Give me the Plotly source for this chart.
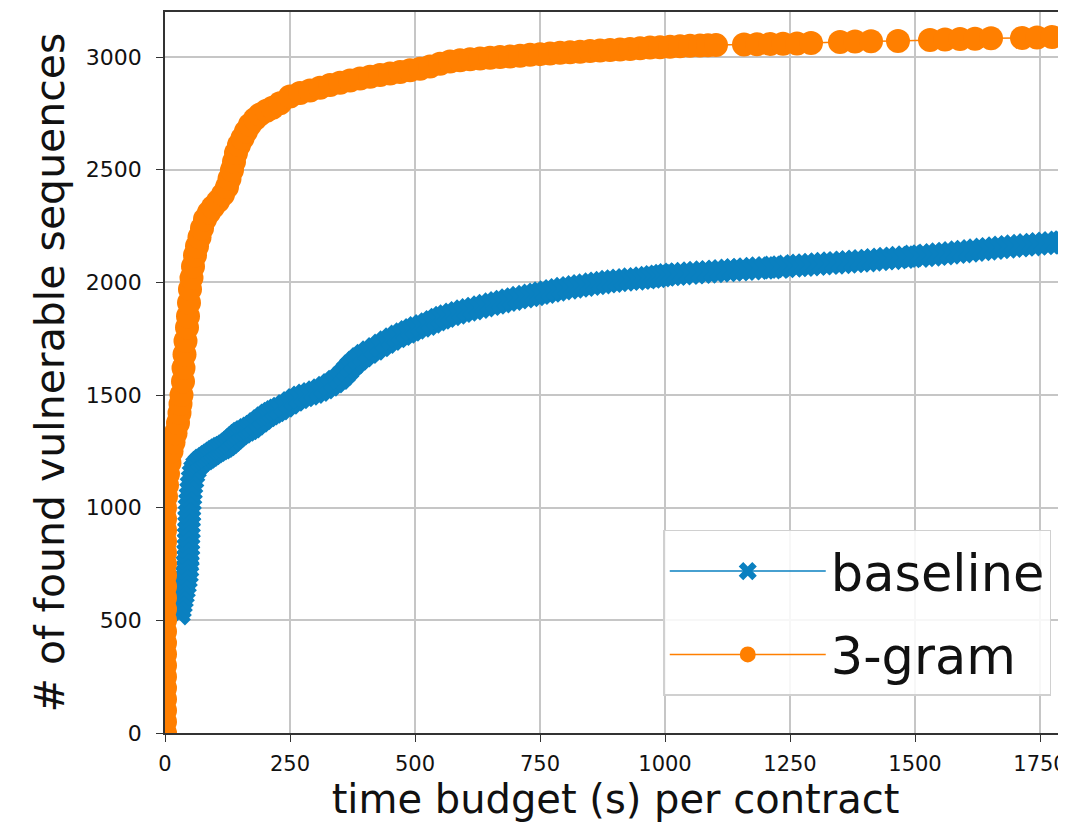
import plotly.graph_objects as go

# ---- data ----
# time budget (s) and cumulative number of found vulnerable sequences
baseline_x = [28, 30, 32, 34, 36, 38, 40, 42, 44, 45, 45, 46, 46, 47, 47, 47, 48, 48, 48, 49,
              49, 50, 51, 52, 53, 55, 57, 60, 64, 69, 74, 80, 85, 90, 95, 100, 105, 110, 115,
              120, 125, 130, 135, 140, 145, 150, 156, 163, 169, 175, 182, 190, 197, 205, 211,
              217, 223, 230, 240, 250, 260, 270, 280, 290, 300, 310, 320, 330, 340, 350, 358,
              365, 372, 380, 388, 397, 408, 420, 432, 443, 454, 465, 475, 485, 494, 503, 514,
              525, 535, 545, 554, 563, 574, 585, 596, 607, 618, 630, 641, 653, 664, 675, 686,
              697, 708, 720, 731, 742, 752, 763, 774, 785, 796, 808, 819, 830, 841, 853, 864,
              875, 886, 897, 908, 920, 931, 943, 954, 965, 975, 985, 994, 1003, 1014, 1025,
              1037, 1050, 1062, 1075, 1087, 1100, 1112, 1125, 1137, 1150, 1162, 1175, 1187,
              1200, 1215, 1230, 1243, 1257, 1268, 1280, 1292, 1305, 1317, 1330, 1342, 1355,
              1367, 1380, 1392, 1405, 1417, 1430, 1442, 1455, 1467, 1480, 1495, 1510, 1522,
              1535, 1547, 1560, 1572, 1585, 1597, 1610, 1622, 1635, 1647, 1660, 1672, 1685,
              1697, 1710, 1722, 1735, 1747, 1760, 1772, 1785, 1794, 1802]
baseline_y = [530, 550, 572, 594, 616, 638, 660, 683, 706, 730, 753, 776, 800, 825, 850, 875,
              900, 925, 950, 975, 1000, 1025, 1050, 1075, 1100, 1125, 1150, 1170, 1188, 1200,
              1210, 1218, 1226, 1233, 1241, 1249, 1256, 1262, 1267, 1273, 1281, 1290, 1300,
              1310, 1320, 1329, 1337, 1345, 1352, 1360, 1372, 1385, 1397, 1410, 1418, 1425,
              1432, 1440, 1452, 1465, 1478, 1490, 1498, 1505, 1513, 1522, 1533, 1545, 1560,
              1575, 1593, 1610, 1628, 1645, 1660, 1675, 1690, 1705, 1720, 1735, 1748, 1760,
              1770, 1780, 1789, 1798, 1807, 1815, 1825, 1835, 1843, 1850, 1858, 1865, 1872,
              1878, 1884, 1890, 1897, 1903, 1909, 1915, 1921, 1926, 1932, 1937, 1942, 1947,
              1952, 1957, 1962, 1967, 1972, 1976, 1980, 1984, 1988, 1992, 1996, 1999, 2003,
              2006, 2009, 2011, 2014, 2016, 2019, 2021, 2024, 2027, 2030, 2033, 2035, 2037,
              2039, 2041, 2043, 2045, 2047, 2049, 2051, 2053, 2055, 2057, 2059, 2061, 2063,
              2064, 2066, 2068, 2071, 2073, 2075, 2077, 2079, 2081, 2083, 2085, 2087, 2089,
              2091, 2093, 2095, 2097, 2100, 2102, 2105, 2107, 2110, 2112, 2115, 2117, 2120,
              2122, 2125, 2128, 2131, 2134, 2137, 2140, 2143, 2146, 2149, 2152, 2155, 2158,
              2161, 2163, 2166, 2168, 2171, 2173, 2175, 2177, 2179, 2180]

trigram_x = [0, 0, 0, 0, 0, 0, 0, 0, 0, 0, 0, 0, 0, 0, 0, 0, 0, 0, 0, 0, 0,
             2, 4, 6, 9, 13, 17, 21, 26, 29, 31, 33, 36,
             37, 39, 41, 44, 46, 48, 50, 53, 56, 60, 64, 69, 74, 80,
             88, 96, 106, 116, 124, 129, 134, 138, 142, 148, 155, 162, 170, 180, 190, 203,
             215, 230, 250, 270, 290, 310, 330, 350, 370, 390, 410, 430, 450, 470, 490,
             510, 530, 550, 570, 590, 610, 630, 650, 670, 690, 710, 730, 750, 770, 790,
             810, 830, 850, 870, 890, 910, 930, 950, 970, 990, 1010, 1030, 1050, 1070,
             1086, 1102,
             1158, 1184, 1210, 1236, 1264, 1292,
             1350, 1380, 1412,
             1466,
             1530, 1560, 1590, 1620, 1652,
             1714, 1744, 1774, 1802]
trigram_y = [0, 50, 100, 150, 200, 250, 300, 350, 400, 450, 500, 550, 600, 650, 700, 750,
             800, 850, 900, 950, 1000,
             1050, 1100, 1150, 1200, 1250, 1290, 1330, 1376, 1420, 1460, 1500, 1560,
             1620, 1680, 1740, 1800, 1850, 1910, 1970, 2020, 2070, 2120, 2160, 2200, 2240,
             2280,
             2310, 2335, 2360, 2390, 2423, 2460, 2499, 2535, 2574, 2610, 2640, 2670, 2700,
             2725, 2745, 2762,
             2775, 2795, 2825, 2840, 2852, 2864, 2876, 2886, 2896, 2905, 2913, 2920, 2927,
             2934, 2941, 2948, 2958, 2970, 2980, 2986, 2990, 2994, 2997, 3000, 3003, 3006,
             3010, 3013, 3016, 3019, 3021, 3024, 3027, 3029, 3031, 3034, 3036, 3039, 3042,
             3044, 3046, 3048, 3050, 3051, 3052, 3053,
             3056, 3057, 3058, 3059, 3060, 3062,
             3067, 3069, 3070,
             3071,
             3076, 3078, 3080, 3081, 3083,
             3085, 3087, 3089, 3091]

x_ticks = [0, 250, 500, 750, 1000, 1250, 1500, 1750]
y_ticks = [0, 500, 1000, 1500, 2000, 2500, 3000]

BLUE = "#0a80c0"
ORANGE = "#ff7f00"
FONT = "DejaVu Sans"

fig = go.Figure()
fig.add_trace(go.Scatter(
    x=baseline_x, y=baseline_y, name="baseline", mode="lines+markers",
    line=dict(color=BLUE, width=1.5),
    marker=dict(symbol="x", size=21, color=BLUE, line=dict(width=0)),
    legendgroup="a",
))
fig.add_trace(go.Scatter(
    x=trigram_x, y=trigram_y, name="3-gram", mode="lines+markers",
    line=dict(color=ORANGE, width=1.5),
    marker=dict(symbol="circle", size=24, color=ORANGE, line=dict(width=0)),
    legendgroup="b",
))

axis_common = dict(
    showgrid=True, gridcolor="#c6c6c6", gridwidth=1.5,
    showline=True, linecolor="#333333", linewidth=1.5,
    ticks="outside", ticklen=7, tickwidth=1.3, tickcolor="#333333",
    zeroline=False, automargin=False, ticklabeloverflow="allow",
)

fig.update_xaxes(
    range=[0, 1802], tickvals=x_ticks, ticktext=[str(v) for v in x_ticks],
    mirror=True, ticklabelstandoff=4,
    tickfont=dict(family=FONT, size=21, color="#111111"),
    title=dict(text="time budget (s) per contract", font=dict(family=FONT, size=40, color="#111111"), standoff=8),
    **axis_common,
)
fig.update_yaxes(
    range=[0, 3200], tickvals=y_ticks, ticktext=[str(v) for v in y_ticks],
    mirror=False, ticklabelstandoff=10,
    tickfont=dict(family=FONT, size=22, color="#111111"),
    title=dict(text="# of found vulnerable sequences", font=dict(family=FONT, size=41, color="#111111"), standoff=8),
    **axis_common,
)

# the page body keeps an 8px margin, so the figure is sized to fit the window without scrollbars
fig.update_layout(
    width=1058, height=814,
    margin=dict(l=157, r=0, t=4, b=89),
    plot_bgcolor="white", paper_bgcolor="white",
    font=dict(family=FONT),
    legend=dict(
        x=0.553, y=0.2816, xanchor="left", yanchor="top",
        font=dict(family=FONT, size=51, color="#111111"),
        bgcolor="rgba(255,255,255,0.85)", bordercolor="#d0d0d0", borderwidth=1.5,
        itemwidth=156, tracegroupgap=14, traceorder="grouped",
    ),
)

fig.write_html("out.html")
